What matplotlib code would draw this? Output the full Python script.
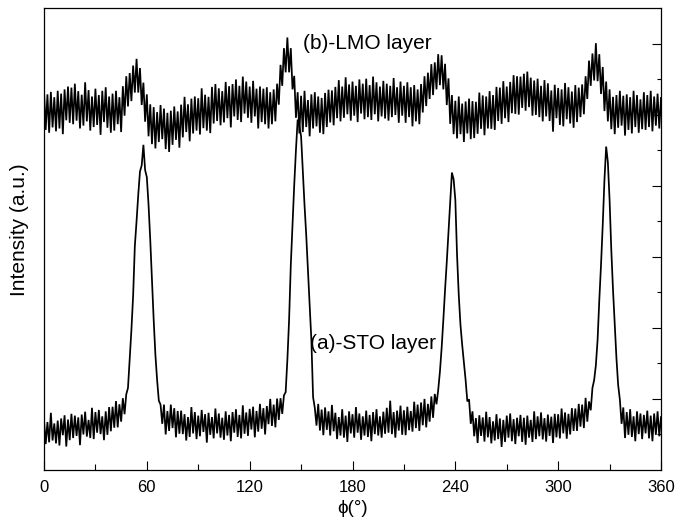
import numpy as np
import matplotlib
matplotlib.use("Agg")
import matplotlib.pyplot as plt
from matplotlib.ticker import FixedLocator, MultipleLocator

plt.rcParams['font.family'] = ['Liberation Sans', 'DejaVu Sans']

# phi sampling (degrees)
phi = np.arange(0, 361, 1)

# (a) STO layer - intensity readings (counts), one per degree
sto = [
    141, 73, 135, 78, 161, 83, 131, 75, 139, 69,
    145, 98, 154, 66, 142, 84, 158, 90, 153, 96,
    148, 70, 156, 100, 164, 94, 141, 90, 175, 87,
    163, 105, 169, 101, 151, 84, 165, 99, 177, 109,
    178, 119, 194, 120, 185, 136, 202, 157, 213, 231,
    310, 394, 490, 630, 700, 775, 840, 857, 915, 844,
    824, 746, 647, 535, 422, 324, 253, 195, 184, 130,
    184, 100, 166, 110, 184, 118, 174, 92, 166, 102,
    167, 101, 157, 83, 149, 93, 177, 103, 163, 87,
    153, 95, 169, 107, 157, 77, 161, 99, 149, 89,
    173, 103, 159, 91, 147, 85, 165, 97, 155, 81,
    163, 105, 171, 93, 155, 89, 182, 102, 162, 96,
    172, 114, 178, 92, 166, 108, 186, 116, 174, 100,
    180, 129, 200, 124, 184, 120, 201, 141, 202, 158,
    210, 219, 310, 422, 577, 689, 802, 900, 986, 969,
    939, 844, 746, 661, 563, 464, 366, 205, 175, 125,
    186, 111, 170, 98, 176, 113, 165, 97, 183, 109,
    161, 87, 149, 97, 171, 91, 153, 79, 165, 103,
    157, 91, 177, 105, 159, 85, 151, 97, 167, 93,
    155, 81, 163, 101, 171, 97, 151, 91, 164, 102,
    175, 105, 195, 101, 163, 91, 167, 111, 181, 99,
    168, 98, 178, 112, 166, 108, 192, 118, 184, 110,
    190, 126, 200, 120, 186, 136, 207, 147, 214, 185,
    225, 276, 343, 422, 507, 585, 670, 760, 837, 818,
    760, 605, 492, 408, 352, 304, 253, 193, 199, 130,
    165, 95, 146, 76, 154, 96, 148, 80, 164, 92,
    149, 75, 137, 83, 157, 87, 145, 65, 141, 79,
    153, 91, 159, 81, 143, 73, 147, 95, 155, 79,
    147, 71, 153, 91, 141, 79, 165, 87, 151, 95,
    162, 86, 146, 80, 156, 96, 150, 76, 158, 92,
    157, 89, 173, 103, 162, 88, 158, 100, 174, 110,
    173, 110, 186, 122, 184, 118, 203, 136, 193, 168,
    231, 253, 295, 366, 478, 577, 689, 816, 910, 866,
    760, 619, 507, 408, 315, 239, 198, 130, 176, 90,
    163, 99, 171, 93, 151, 81, 165, 101, 159, 87,
    155, 103, 167, 89, 153, 81, 159, 99, 165, 95, 149,
]

# (b) LMO layer - intensity readings (counts), one per degree
lmo = [
    1069, 957, 1057, 949, 1064, 964, 1049, 953, 1067, 961,
    1059, 945, 1071, 984, 1079, 977, 1076, 973, 1087, 983,
    1066, 961, 1056, 969, 1091, 981, 1069, 955, 1051, 965,
    1073, 971, 1055, 943, 1067, 979, 1077, 963, 1051, 949,
    1059, 955, 1067, 973, 1049, 951, 1080, 997, 1108, 1023,
    1117, 1038, 1138, 1062, 1157, 1062, 1131, 1027, 1090, 980,
    1057, 939, 1029, 917, 1021, 905, 1007, 923, 1027, 931,
    1017, 903, 1005, 895, 1011, 915, 1023, 929, 1009, 907,
    1028, 936, 1050, 951, 1029, 925, 1045, 947, 1051, 955,
    1046, 944, 1074, 962, 1056, 955, 1050, 948, 1078, 975,
    1086, 982, 1074, 970, 1066, 978, 1092, 990, 1080, 964,
    1086, 995, 1099, 985, 1081, 979, 1107, 1003, 1093, 991,
    1079, 977, 1095, 995, 1073, 961, 1079, 979, 1073, 973,
    1077, 961, 1063, 973, 1071, 981, 1087, 1028, 1140, 1081,
    1187, 1119, 1217, 1119, 1187, 1071, 1109, 991, 1063, 947,
    1053, 951, 1067, 965, 1041, 939, 1057, 961, 1063, 967,
    1051, 949, 1047, 945, 1061, 965, 1070, 978, 1068, 970,
    1078, 990, 1097, 981, 1079, 991, 1105, 1001, 1085, 983,
    1093, 997, 1081, 979, 1099, 1003, 1087, 987, 1101, 993,
    1083, 985, 1107, 1001, 1091, 981, 1079, 995, 1095, 989,
    1087, 983, 1081, 993, 1103, 999, 1077, 977, 1093, 997,
    1081, 977, 1091, 993, 1077, 967, 1083, 981, 1071, 973,
    1086, 1006, 1108, 1024, 1118, 1044, 1142, 1055, 1147, 1071,
    1170, 1083, 1167, 1071, 1143, 1027, 1102, 974, 1055, 945,
    1039, 933, 1051, 945, 1031, 923, 1037, 947, 1045, 931,
    1038, 934, 1036, 946, 1062, 960, 1054, 942, 1051, 961,
    1066, 960, 1055, 957, 1078, 982, 1076, 974, 1094, 990,
    1079, 979, 1092, 1004, 1111, 1002, 1108, 1000, 1107, 1019,
    1115, 1011, 1121, 1021, 1104, 997, 1096, 999, 1101, 993,
    1081, 981, 1097, 995, 1088, 982, 1068, 952, 1084, 990,
    1075, 971, 1071, 967, 1089, 987, 1077, 975, 1065, 963,
    1083, 979, 1076, 993, 1085, 1001, 1108, 1044, 1152, 1081,
    1172, 1096, 1201, 1094, 1170, 1058, 1134, 1010, 1093, 981,
    1071, 959, 1050, 945, 1055, 963, 1067, 969, 1053, 941,
    1057, 957, 1049, 947, 1067, 965, 1055, 949, 1043, 959,
    1063, 957, 1055, 965, 1067, 953, 1051, 969, 1059, 961, 1047,
]

x_major = [0, 60, 120, 180, 240, 300, 360]
x_tick_labels = ["0", "60", "120", "180", "240", "300", "360"]
y_major = [200, 400, 600, 800, 1000, 1200]
y_minor = [100, 300, 500, 700, 900, 1100]

fig = plt.figure(figsize=(6.78, 5.27), dpi=100)
ax = fig.add_axes([44 / 678, 57 / 527, 617 / 678, 462 / 527])

ax.plot(phi, sto, color='black', lw=1.25, solid_joinstyle='miter')
ax.plot(phi, lmo, color='black', lw=1.25, solid_joinstyle='miter')

ax.set_xlim(0, 360)
ax.set_ylim(0, 1300)

ax.xaxis.set_major_locator(FixedLocator(x_major))
ax.set_xticklabels(x_tick_labels)
ax.xaxis.set_minor_locator(MultipleLocator(30))
ax.yaxis.set_major_locator(FixedLocator(y_major))
ax.yaxis.set_minor_locator(FixedLocator(y_minor))

ax.tick_params(axis='x', which='both', direction='in', top=False, bottom=True,
               labelsize=12, pad=7, width=0.8)
ax.tick_params(axis='x', which='major', length=6.5)
ax.tick_params(axis='x', which='minor', length=4)
ax.tick_params(axis='y', which='both', direction='in', left=False, right=True,
               labelleft=False, labelright=False, width=0.8)
ax.tick_params(axis='y', which='major', length=6.5)
ax.tick_params(axis='y', which='minor', length=3.2)

for s in ax.spines.values():
    s.set_linewidth(0.9)

ax.set_xlabel("ϕ(°)", fontsize=13.5, labelpad=4)
ax.set_ylabel("Intensity (a.u.)", fontsize=15, labelpad=10)
ax.yaxis.set_label_coords(-0.025, 0.52)

ax.text(151, 1199, "(b)-LMO layer", fontsize=15, va='center', ha='left')
ax.text(155, 357, "(a)-STO layer", fontsize=15, va='center', ha='left')

fig.savefig("out.png", dpi=100)
